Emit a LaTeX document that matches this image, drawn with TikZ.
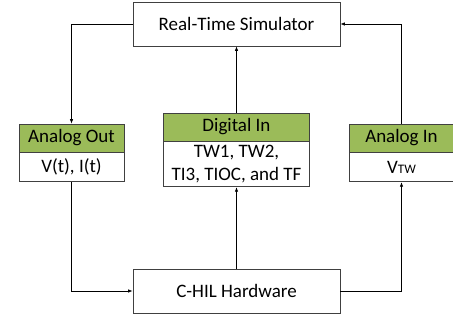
\documentclass[tikz,border=0pt]{standalone}
\usepackage{fontspec}
\setmainfont{Carlito}
\usetikzlibrary{arrows.meta}
\definecolor{headgreen}{HTML}{9BBB59}
\definecolor{boxline}{HTML}{404040}
\tikzset{
	box/.style={draw=boxline, line width=0.8pt, fill=white, inner sep=0pt, align=center, font=\fontsize{19}{23}\selectfont},
	head/.style={box, fill=headgreen},
	conn/.style={line width=0.7pt, -{Latex[length=4.5pt,width=3.5pt]}}
}
\begin{document}
\begin{tikzpicture}[x=1pt, y=1pt]
			%%%%% START %%%%%
			\useasboundingbox (0, 0) rectangle (453, 320);
			
			\node[box, minimum width=207pt, minimum height=44pt] (rts) at (236.5, 296) {Real-Time Simulator};
			\node[box, minimum width=207pt, minimum height=44pt] (chil) at (236.5, 29) {C-HIL Hardware};
			
			\node[head, minimum width=105pt, minimum height=28pt] (aouthead) at (71.5, 182) {Analog Out};
			\node[box, minimum width=105pt, minimum height=29pt, anchor=north] (aoutbody) at (aouthead.south) {V(t), I(t)};
			
			\node[head, minimum width=146pt, minimum height=28pt] (dinhead) at (236.5, 193) {Digital In};
			\node[box, minimum width=146pt, minimum height=45pt, anchor=north] (dinbody) at (dinhead.south) {TW1, TW2,\\TI3, TIOC, and TF};
			
			\node[head, minimum width=105pt, minimum height=28pt] (ainhead) at (401.5, 182) {Analog In};
			\node[box, minimum width=105pt, minimum height=29pt, anchor=north] (ainbody) at (ainhead.south) {V{\fontsize{13}{13}\selectfont TW}};
			
			\draw[conn] (rts.west) -| (aouthead.north);
			\draw[conn] (aoutbody.south) |- (chil.west);
			\draw[conn] (chil.north) -- (dinbody.south);
			\draw[conn] (dinhead.north) -- (rts.south);
			\draw[conn] (chil.east) -| (ainbody.south);
			\draw[conn] (ainhead.north) |- (rts.east);
			%%%%% END %%%%%
\end{tikzpicture}
\end{document}
